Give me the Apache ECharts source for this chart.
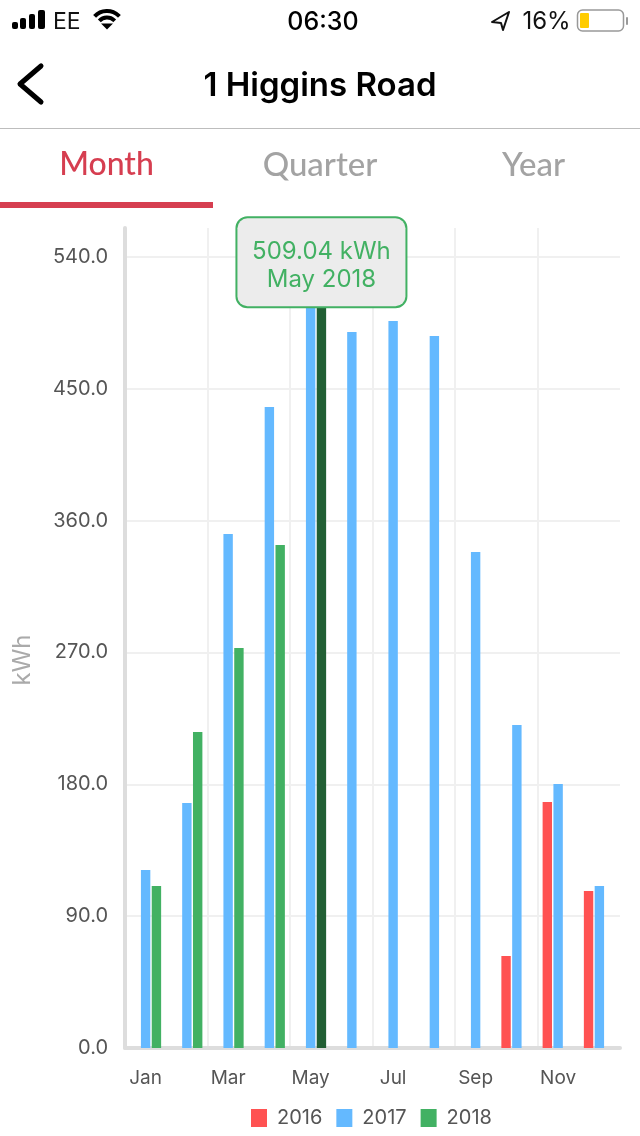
<!DOCTYPE html>
<html>
<head>
<meta charset="utf-8">
<style>html,body{margin:0;padding:0;background:#fff}#c{width:640px;height:1136px}</style>
<script src="https://cdn.jsdelivr.net/npm/echarts@6/dist/echarts.min.js"></script>
</head>
<body>
<div id="c"></div>
<script>
const months = ['Jan','Feb','Mar','Apr','May','Jun','Jul','Aug','Sep','Oct','Nov','Dec'];
const yTicks = 90;
const yMax = 559.7;
const s2016 = [null,null,null,null,null,null,null,null,null,62.8,167.9,107.2];
const s2017 = [121.5,167.2,350.9,437.5,515,488.7,496.2,486,338.6,220.5,180.2,110.6];
const s2018 = [110.6,215.7,273,343.3,509.04,null,null,null,null,null,null,null];
const selectedMonth = 4;
const selectedText = ['509.04 kWh','May 2018'];
const colors = {r:'#FF5252',b:'#64B9FF',g:'#42B163',dark:'#225F34',brand:'#D63E50',grey:'#A3A3A3',label:'#555555'};
const UI = 'Inter, Roboto, sans-serif';
const TAB = 'Lato, "Open Sans", sans-serif';

function txt(x,y,text,size,fill,weight,family,align){
  return {type:'text',x:x,y:y,silent:true,style:{text:text,fontSize:size,fill:fill,fontWeight:weight||400,fontFamily:family||UI,align:align||'center',verticalAlign:'middle'}};
}
function rect(x,y,w,h,fill,r){
  return {type:'rect',silent:true,shape:{x:x,y:y,width:w,height:h,r:r||0},style:{fill:fill}};
}
function wifiArc(r,lw){
  return {type:'arc',silent:true,shape:{cx:107,cy:28,r:r,startAngle:-Math.PI*0.76,endAngle:-Math.PI*0.24},style:{fill:null,stroke:'#000',lineWidth:lw}};
}
const yName = txt(0,0,'kWh',24,'#AAAAAA',400,UI);
yName.x = 23; yName.y = 660; yName.rotation = Math.PI/2;
const chrome = [
  rect(12,22,6,7,'#000',2), rect(20,18,6,11,'#000',2), rect(29,14,6,15,'#000',2), rect(38,10,7,19,'#000',2),
  txt(53,22,'EE',23,'#111',400,UI,'left'),
  wifiArc(17,4), wifiArc(10.5,4),
  {type:'polygon',silent:true,shape:{points:[[107,29.5],[101,23.5],[113,23.5]]},style:{fill:'#000'}},
  txt(323,22,'06:30',25,'#000',500),
  {type:'polygon',silent:true,shape:{points:[[509,12],[492,22],[501,23],[503,30]]},style:{fill:'none',stroke:'#111',lineWidth:2,lineJoin:'round'}},
  txt(546.5,22,'16%',24,'#111',400),
  {type:'rect',silent:true,shape:{x:577.5,y:10,width:46,height:21,r:5},style:{fill:'#fff',stroke:'#999',lineWidth:1.5}},
  rect(580,13,9,15,'#FFCC00',1),
  rect(626,17,2,8,'#999',1),
  {type:'polyline',silent:true,shape:{points:[[41,66],[20,84],[41,102]]},style:{fill:'none',stroke:'#000',lineWidth:5,lineCap:'round',lineJoin:'round'}},
  txt(320,86,'1 Higgins Road',33,'#000',600),
  rect(0,128,640,1,'#BDBDBD'),
  txt(106.5,165,'Month',32,colors.brand,500,TAB),
  txt(320,165,'Quarter',33,colors.grey,500,TAB),
  txt(533.5,165,'Year',33,colors.grey,500,TAB),
  rect(0,202,213,6,colors.brand),
  yName
];

const chart = echarts.init(document.getElementById('c'),null,{renderer:'canvas'});
const bar = {type:'bar',barWidth:9.4,barGap:'15%',animation:false};
chart.setOption({
  animation:false,
  backgroundColor:'#fff',
  color:[colors.r,colors.b,colors.g],
  grid:{left:125,right:20,top:228,bottom:88,containLabel:false,outerBoundsMode:'none'},
  legend:{
    bottom:3,left:246,itemWidth:16,itemHeight:18,itemGap:14,
    icon:'rect',selectedMode:false,
    data:['2016','2017','2018'],
    textStyle:{fontSize:20,color:colors.label,fontFamily:UI,padding:[0,0,0,5]}
  },
  xAxis:{
    type:'category',data:months,
    axisLine:{lineStyle:{color:'#DDDDDD',width:4}},
    axisTick:{show:false},
    axisLabel:{interval:1,fontSize:19,color:colors.label,fontFamily:UI,margin:21},
    splitLine:{show:true,interval:1,showMaxLine:false,lineStyle:{color:'#F0F0F0',width:2}}
  },
  yAxis:{
    type:'value',min:0,max:yMax,interval:yTicks,
    axisLine:{show:true,lineStyle:{color:'#DDDDDD',width:4}},
    axisTick:{show:false},
    axisLabel:{showMaxLabel:false,fontSize:20,color:colors.label,fontFamily:UI,margin:17,formatter:v=>v.toFixed(1)},
    splitLine:{show:true,showMaxLine:false,lineStyle:{color:'#F0F0F0',width:2}}
  },
  series:[
    Object.assign({},bar,{name:'2016',data:s2016}),
    Object.assign({},bar,{name:'2017',data:s2017}),
    Object.assign({},bar,{name:'2018',data:s2018.map((v,i)=> i!==selectedMonth ? v : {
      value:v,
      itemStyle:{color:colors.dark},
      label:{
        show:true,position:'top',distance:-4,
        formatter:selectedText.join('\n'),
        color:colors.g,fontSize:24,fontFamily:UI,lineHeight:28,align:'center',
        width:168,height:58,padding:[18,0,12,0],
        backgroundColor:'#ECECEC',borderColor:colors.g,borderWidth:2,borderRadius:10
      }
    })})
  ],
  graphic:chrome
});
</script>
</body>
</html>
